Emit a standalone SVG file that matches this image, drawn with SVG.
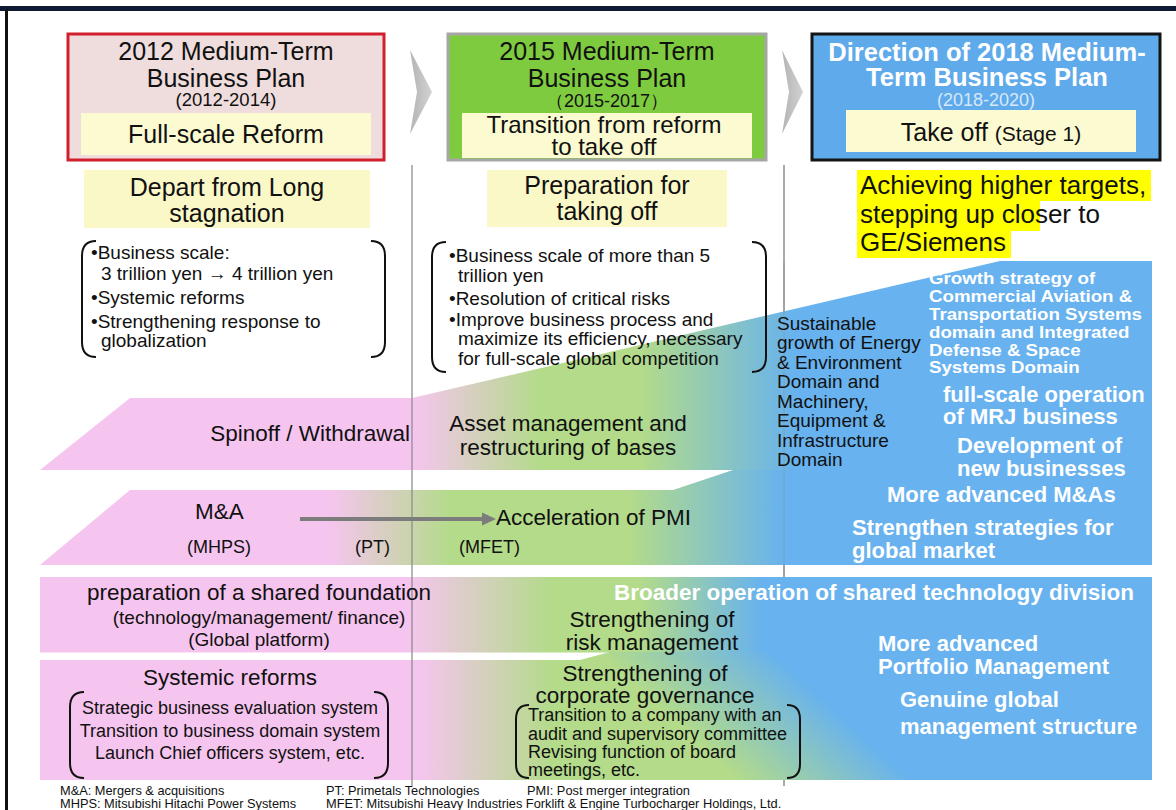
<svg xmlns="http://www.w3.org/2000/svg" width="1176" height="810" viewBox="0 0 1176 810">
  <style>
    text { font-family: "Liberation Sans", Arial, sans-serif; fill: #111; }
    .c { text-anchor: middle; }
    .t25 { font-size: 25px; }
    .t22 { font-size: 22.5px; }
    .t19 { font-size: 19px; }
    .t18 { font-size: 18px; }
    .t13 { font-size: 12.8px; }
    .w { fill: #ffffff; font-weight: bold; }
    .brk { fill: none; stroke: #111; stroke-width: 2; }
    .vline { stroke: #8c8c8c; stroke-width: 1.5; }
  </style>
  <defs>
    <linearGradient id="gU" gradientUnits="userSpaceOnUse" x1="40" y1="0" x2="1152" y2="0">
      <stop offset="0" stop-color="#f6c5ef"/>
      <stop offset="0.335" stop-color="#f6c5ef"/>
      <stop offset="0.45" stop-color="#b3db8a"/>
      <stop offset="0.54" stop-color="#b3db8a"/>
      <stop offset="0.68" stop-color="#67b2ef"/>
      <stop offset="1" stop-color="#67b2ef"/>
    </linearGradient>
    <linearGradient id="gL" gradientUnits="userSpaceOnUse" x1="40" y1="0" x2="1152" y2="0">
      <stop offset="0" stop-color="#f6c5ef"/>
      <stop offset="0.26" stop-color="#f6c5ef"/>
      <stop offset="0.37" stop-color="#b3db8a"/>
      <stop offset="0.53" stop-color="#b3db8a"/>
      <stop offset="0.67" stop-color="#67b2ef"/>
      <stop offset="1" stop-color="#67b2ef"/>
    </linearGradient>
    <linearGradient id="gB3" gradientUnits="userSpaceOnUse" x1="40" y1="0" x2="1152" y2="0">
      <stop offset="0" stop-color="#f6c5ef"/>
      <stop offset="0.33" stop-color="#f6c5ef"/>
      <stop offset="0.46" stop-color="#b3db8a"/>
      <stop offset="0.54" stop-color="#b3db8a"/>
      <stop offset="0.65" stop-color="#67b2ef"/>
      <stop offset="1" stop-color="#67b2ef"/>
    </linearGradient>
    <linearGradient id="gB4" gradientUnits="userSpaceOnUse" x1="40" y1="0" x2="1152" y2="0">
      <stop offset="0" stop-color="#f6c5ef"/>
      <stop offset="0.34" stop-color="#f6c5ef"/>
      <stop offset="0.46" stop-color="#b3db8a"/>
      <stop offset="1" stop-color="#b3db8a"/>
    </linearGradient>
    <linearGradient id="gB4blue" gradientUnits="userSpaceOnUse" x1="700" y1="745" x2="780" y2="658">
      <stop offset="0" stop-color="#67b2ef" stop-opacity="0"/>
      <stop offset="1" stop-color="#67b2ef" stop-opacity="1"/>
    </linearGradient>
    <linearGradient id="gChev" x1="0" y1="0" x2="1" y2="0">
      <stop offset="0" stop-color="#b4b4b4"/>
      <stop offset="1" stop-color="#d2d2d2"/>
    </linearGradient>
  </defs>

  <!-- frame -->
  <rect x="0" y="0" width="1176" height="810" fill="#ffffff"/>
  <rect x="0" y="6" width="1176" height="5" fill="#0e1a33"/>
  <rect x="5" y="9" width="3" height="801" fill="#111111"/>

  <!-- column dividers (behind bands) -->
  <line class="vline" x1="784" y1="165" x2="784" y2="786"/>

  <!-- bands -->
  <g id="band-upper">
    <polygon points="130,398 412,398 1000,261 1152,261 1152,470 40,470" fill="url(#gU)"/>
  </g>
  <g id="band-mna">
    <polygon points="130,490 673,490 733,470 1152,470 1152,565 40,565" fill="url(#gL)"/>
  </g>
  <g id="band-foundation">
    <rect x="40" y="577" width="1112" height="75.5" fill="url(#gB3)"/>
  </g>
  <g id="band-governance">
    <polygon points="40,660 580,660 610,652 1152,652 1152,780 40,780" fill="url(#gB4)"/>
    <polygon points="600,652 1152,652 1152,780 600,780" fill="url(#gB4blue)"/>
  </g>

  <line class="vline" x1="412" y1="165" x2="412" y2="786" opacity="0.85"/>
  <line class="vline" x1="784" y1="261" x2="784" y2="577" opacity="0.3"/>

  <!-- plan headers -->
  <g id="plan-2012">
    <rect x="68" y="34" width="316" height="126" fill="#efdcdc" stroke="#d21f2e" stroke-width="3"/>
    <rect x="81" y="113" width="290" height="42" fill="#fcfad0"/>
    <text class="c t25" x="226" y="60">2012 Medium-Term</text>
    <text class="c t25" x="226" y="87">Business Plan</text>
    <text class="c" x="226" y="106" font-size="18.5">(2012-2014)</text>
    <text class="c t25" x="226" y="143">Full-scale Reform</text>
  </g>
  <g id="chevron-1">
    <polygon points="410,50 432,92 410,134 417,92" fill="url(#gChev)"/>
  </g>
  <g id="plan-2015">
    <rect x="448" y="34" width="318" height="126" fill="#7fcb40" stroke="#a6a6a6" stroke-width="3"/>
    <rect x="462" y="113" width="290" height="45" fill="#fcfad0"/>
    <text class="c t25" x="607" y="60">2015 Medium-Term</text>
    <text class="c t25" x="607" y="87">Business Plan</text>
    <text class="c" x="607" y="107" font-size="18">（2015-2017）</text>
    <text class="c" font-size="24" x="604" y="133">Transition from reform</text>
    <text class="c" font-size="24" x="604" y="155">to take off</text>
  </g>
  <g id="chevron-2">
    <polygon points="782,50 803,92 782,134 789,92" fill="url(#gChev)"/>
  </g>
  <g id="plan-2018">
    <rect x="812" y="34" width="348" height="126" fill="#5faaea" stroke="#141414" stroke-width="3"/>
    <rect x="846" y="110" width="290" height="42" fill="#fcfad0"/>
    <text class="c w" font-size="25.5" x="987" y="61">Direction of 2018 Medium-</text>
    <text class="c w" font-size="25.5" x="987" y="86">Term Business Plan</text>
    <text class="c" x="986" y="106" font-size="18" style="fill:#d6e8fa">(2018-2020)</text>
    <text class="c" x="991" y="141"><tspan font-size="25">Take off </tspan><tspan font-size="21">(Stage 1)</tspan></text>
  </g>

  <!-- column goals -->
  <g id="goal-2012">
    <rect x="84" y="170" width="286" height="58" fill="#fbf8c8"/>
    <text class="c t25" x="227" y="196">Depart from Long</text>
    <text class="c t25" x="227" y="222">stagnation</text>
  </g>
  <g id="goal-2015">
    <rect x="487" y="170" width="240" height="57" fill="#fbf8c8"/>
    <text class="c t25" x="607" y="194">Preparation for</text>
    <text class="c t25" x="607" y="220">taking off</text>
  </g>
  <g id="goal-2018">
    <rect x="857" y="170" width="294" height="31" fill="#ffff00"/>
    <rect x="857" y="201" width="183" height="30" fill="#ffff00"/>
    <rect x="857" y="231" width="154" height="27" fill="#ffff00"/>
    <text font-size="26" x="860" y="194">Achieving higher targets,</text>
    <text font-size="26" x="860" y="223">stepping up closer to</text>
    <text font-size="26" x="860" y="251">GE/Siemens</text>
  </g>

  <!-- bracketed lists -->
  <g id="list-2012">
    <path class="brk" d="M96,241 Q82,241 82,256 L82,342 Q82,357 96,357"/>
    <path class="brk" d="M371,241 Q385,241 385,256 L385,342 Q385,357 371,357"/>
    <text class="t19" x="91" y="259">•Business scale:</text>
    <text class="t19" x="101" y="280">3 trillion yen → 4 trillion yen</text>
    <text class="t19" x="91" y="304">•Systemic reforms</text>
    <text class="t19" x="91" y="328">•Strengthening response to</text>
    <text class="t19" x="101" y="347">globalization</text>
  </g>
  <g id="list-2015">
    <path class="brk" d="M446,242 Q432,242 432,257 L432,357 Q432,372 446,372"/>
    <path class="brk" d="M752,242 Q766,242 766,257 L766,357 Q766,372 752,372"/>
    <text class="t19" x="449" y="262">•Business scale of more than 5</text>
    <text class="t19" x="458" y="282">trillion yen</text>
    <text class="t19" x="449" y="305">•Resolution of critical risks</text>
    <text class="t19" x="449" y="326">•Improve business process and</text>
    <text class="t19" x="458" y="345">maximize its efficiency, necessary</text>
    <text class="t19" x="458" y="365">for full-scale global competition</text>
  </g>

  <!-- upper band labels -->
  <g id="spinoff">
    <text class="t22" x="410" y="441" text-anchor="end">Spinoff / Withdrawal</text>
  </g>
  <g id="asset-management">
    <text class="c t22" x="568" y="431">Asset management and</text>
    <text class="c t22" x="568" y="455">restructuring of bases</text>
  </g>
  <g id="energy-domain">
    <text class="t19" x="777" y="330">Sustainable</text>
    <text class="t19" x="777" y="349">growth of Energy</text>
    <text class="t19" x="777" y="369">&amp; Environment</text>
    <text class="t19" x="777" y="388">Domain and</text>
    <text class="t19" x="777" y="408">Machinery,</text>
    <text class="t19" x="777" y="427">Equipment &amp;</text>
    <text class="t19" x="777" y="447">Infrastructure</text>
    <text class="t19" x="777" y="466">Domain</text>
  </g>
  <g id="aviation-defense" transform="translate(929 0) scale(1.1 1)">
    <text class="w" font-size="17" x="0" y="284">Growth strategy of</text>
    <text class="w" font-size="17" x="0" y="302">Commercial Aviation &amp;</text>
    <text class="w" font-size="17" x="0" y="320">Transportation Systems</text>
    <text class="w" font-size="17" x="0" y="338">domain and Integrated</text>
    <text class="w" font-size="17" x="0" y="356">Defense &amp; Space</text>
    <text class="w" font-size="17" x="0" y="373">Systems Domain</text>
  </g>
  <g id="mrj">
    <text class="w" font-size="22" x="943" y="402">full-scale operation</text>
    <text class="w" font-size="22" x="943" y="424">of MRJ business</text>
  </g>
  <g id="new-business">
    <text class="w" font-size="22" x="957" y="453">Development of</text>
    <text class="w" font-size="22" x="957" y="476">new businesses</text>
  </g>
  <g id="advanced-mna">
    <text class="w" font-size="22" x="887" y="502">More advanced M&amp;As</text>
  </g>
  <g id="global-market">
    <text class="w" font-size="22" x="852" y="535">Strengthen strategies for</text>
    <text class="w" font-size="22" x="852" y="558">global market</text>
  </g>

  <!-- M&A band labels -->
  <g id="mna">
    <text class="t22" x="195" y="519">M&amp;A</text>
    <text class="t18" x="187" y="553">(MHPS)</text>
    <text class="t18" x="355" y="553">(PT)</text>
    <text class="t18" x="459" y="553">(MFET)</text>
  </g>
  <g id="connectors">
    <line x1="300" y1="519" x2="484" y2="519" stroke="#7c7c7c" stroke-width="4"/>
    <polygon points="482,512.5 496,519 482,525.5" fill="#7c7c7c"/>
  </g>
  <g id="pmi">
    <text class="t22" x="496" y="525">Acceleration of PMI</text>
  </g>

  <!-- foundation band -->
  <g id="shared-foundation">
    <text class="c t22" x="259" y="600">preparation of a shared foundation</text>
    <text class="c t19" x="259" y="624">(technology/management/ finance)</text>
    <text class="c t19" x="259" y="646">(Global platform)</text>
  </g>
  <g id="shared-technology">
    <text class="w" font-size="22.5" x="614" y="600">Broader operation of shared technology division</text>
  </g>
  <g id="risk-management">
    <text class="c t22" x="652" y="627">Strengthening of</text>
    <text class="c t22" x="652" y="650">risk  management</text>
  </g>
  <g id="portfolio">
    <text class="w" font-size="22" x="878" y="651">More advanced</text>
    <text class="w" font-size="22" x="878" y="674">Portfolio Management</text>
  </g>
  <g id="global-structure">
    <text class="w" font-size="22" x="900" y="707">Genuine global</text>
    <text class="w" font-size="22" x="900" y="734">management structure</text>
  </g>

  <!-- governance band -->
  <g id="systemic-reforms">
    <text class="c t22" x="230" y="685">Systemic reforms</text>
    <path class="brk" d="M84,692 Q70,692 70,707 L70,763 Q70,778 84,778"/>
    <path class="brk" d="M374,692 Q388,692 388,707 L388,763 Q388,778 374,778"/>
    <text class="c t18" x="230" y="714">Strategic business evaluation system</text>
    <text class="c t18" x="230" y="737">Transition to business domain system</text>
    <text class="c t18" x="230" y="759">Launch Chief officers system, etc.</text>
  </g>
  <g id="corporate-governance">
    <text class="c t22" x="645" y="681">Strengthening of</text>
    <text class="c t22" x="645" y="703">corporate governance</text>
    <path class="brk" d="M529,705 Q516,705 516,719 L516,764 Q516,778 529,778"/>
    <path class="brk" d="M787,705 Q800,705 800,719 L800,764 Q800,778 787,778"/>
    <text class="t18" x="528" y="721">Transition to a company with an</text>
    <text class="t18" x="528" y="740">audit and supervisory committee</text>
    <text class="t18" x="528" y="758">Revising function of board</text>
    <text class="t18" x="528" y="776">meetings, etc.</text>
  </g>

  <!-- abbreviations -->
  <g id="notes">
    <text class="t13" x="60" y="795">M&amp;A: Mergers &amp; acquisitions</text>
    <text class="t13" x="60" y="808">MHPS: Mitsubishi Hitachi Power Systems</text>
    <text class="t13" x="326" y="795">PT: Primetals Technologies</text>
    <text class="t13" x="527" y="795">PMI: Post merger integration</text>
    <text class="t13" x="326" y="808">MFET: Mitsubishi Heavy Industries Forklift &amp; Engine Turbocharger Holdings, Ltd.</text>
  </g>
</svg>
